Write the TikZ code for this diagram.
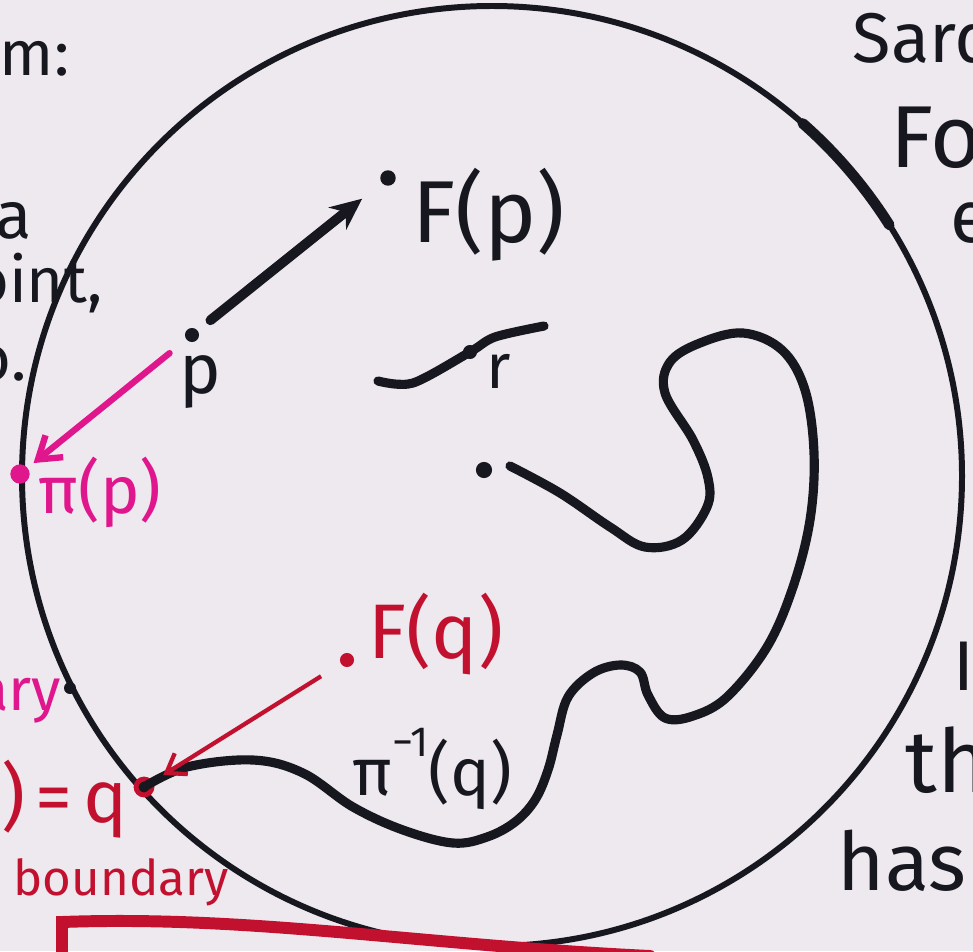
\documentclass[tikz,border=0pt]{standalone}
\usepackage{fontspec}
\newfontfamily\handfont{Fira Sans}
\usetikzlibrary{arrows.meta, positioning}
\definecolor{inkc}{HTML}{17171F}
\definecolor{magink}{HTML}{E0168C}
\definecolor{redink}{HTML}{C2102F}
\definecolor{paper}{HTML}{EEE8EF}
\newcommand{\hs}[1]{\fontsize{#1}{#1}\selectfont}

\begin{document}
\begin{tikzpicture}[x=0.01cm, y=-0.01cm,
      ink/.style={draw=inkc, line width=2.6pt, line cap=round, line join=round},
      dot/.style={circle, fill=inkc, inner sep=0pt, minimum size=4pt},
      txt/.style={inner sep=0pt, text=inkc, font=\handfont\hs{24}},
      every node/.style={inner sep=0pt}]
    \useasboundingbox (0,0) rectangle (973,951);
    \fill[paper] (0,0) rectangle (973,951);
    \clip (0,0) rectangle (973,951);

    % the disc
    \draw[inkc, line width=1.7pt] (492,476) circle[radius=470];
    \draw[inkc, line width=3pt, line cap=round] ([shift={(-48.6:470)}]492,476) arc[start angle=-48.6, end angle=-32.3, radius=470];
    \fill[inkc] (70,688) circle[radius=6];

    % points
    \node[dot] (p) at (192,335) {};
    \node[dot, minimum size=4.4pt] (Fp) at (388,178) {};
    \node[dot] (r) at (470,352) {};
    \node[dot, minimum size=4.6pt] (s) at (484,470) {};
    \node[dot, fill=magink, minimum size=5.5pt] (pip) at (20,474) {};
    \node[dot, fill=redink] (Fq) at (347,660) {};
    \node[dot, draw=redink, line width=1.4pt, minimum size=4.5pt] (q) at (144,787) {};

    % labels
    \node[txt, font=\handfont\hs{20}, below=1.2mm of p, xshift=0.8mm] (plab) {p};
    \node[txt, font=\handfont\hs{25}, anchor=base west] (Fplab) at (412,242) {F(p)};
    \node[txt, font=\handfont\hs{18}, anchor=base west] (rlab) at (486,388) {r};
    \node[txt, text=magink, font=\handfont\hs{19}, anchor=base west] (piplab) at (38,513) {π(p)};
    \node[txt, text=redink, font=\handfont\hs{22}, anchor=base west] (Fqlab) at (368,658) {F(q)};
    \node[txt, font=\handfont\hs{19}, anchor=base west] (fibre) at (352,795) {π\raisebox{1.1ex}{\hs{12}−1}(q)};

    % curves
    \draw[ink] plot[smooth] coordinates {(378,381) (413,383) (r.center) (495,337) (544,326)};
    \draw[ink] plot[smooth, tension=0.6] coordinates {(510,466) (560,493) (610,527) (645,547) (682,540)
      (707,507) (708,478) (693,440) (665,393) (670,362) (700,343) (743,333) (782,350) (805,390)
      (814,453) (810,520) (793,587) (767,647) (727,697) (693,716) (665,718) (648,695) (640,672)
      (620,665) (593,673) (568,697) (557,735) (548,770) (535,800) (515,822) (487,837) (453,843)
      (403,830) (353,807) (303,773) (253,760) (187,767) (q.center)};

    % maps
    \draw[ink, line width=2.8pt, -{Stealth[length=9pt, width=8pt]}, shorten <=4.5pt, shorten >=7pt] (p) -- (Fp);
    \draw[magink, line width=1.8pt, line cap=round, -{Straight Barb[length=6pt, width=8pt]}, shorten <=6pt, shorten >=2pt] (p) -- (pip);
    \draw[redink, line width=1.2pt, -{Straight Barb[length=5pt, width=7pt]}, shorten <=6.5pt, shorten >=3.5pt] (Fq) -- (q);

    % margins of the board
    \node[txt, font=\handfont\hs{18}, anchor=base east] at (70,75) {m:};
    \node[txt, font=\handfont\hs{19}, anchor=base east] at (33,238) {a};
    \node[txt, font=\handfont\hs{18}, anchor=base east] at (103,302) {oint,};
    \node[txt, font=\handfont\hs{18}, anchor=base east] at (27,380) {o.};
    \node[txt, text=magink, font=\handfont\hs{17}, anchor=base east] at (62,710) {ary};
    \node[txt, text=redink, font=\handfont\hs{21}, anchor=base east] at (128,822) {)\hspace{3pt}=\hspace{3pt}q};
    \node[txt, text=redink, font=\handfont\hs{14}, anchor=base west] at (13,895) {boundary};
    \draw[redink, line width=3.4pt, line cap=round] (62,955) -- (62,922) .. controls (250,915) and (420,945) .. (650,956);
    \node[txt, font=\handfont\hs{20}, anchor=base west] at (852,62) {Sard};
    \node[txt, font=\handfont\hs{25}, anchor=base west] at (890,167) {Fo};
    \node[txt, font=\handfont\hs{21}, anchor=base west] at (950,242) {e};
    \node[txt, font=\handfont\hs{20}, anchor=base west] at (953,690) {I};
    \node[txt, font=\handfont\hs{25}, anchor=base west] at (905,792) {th};
    \node[txt, font=\handfont\hs{23}, anchor=base west] at (837,890) {has};
\end{tikzpicture}
\end{document}
